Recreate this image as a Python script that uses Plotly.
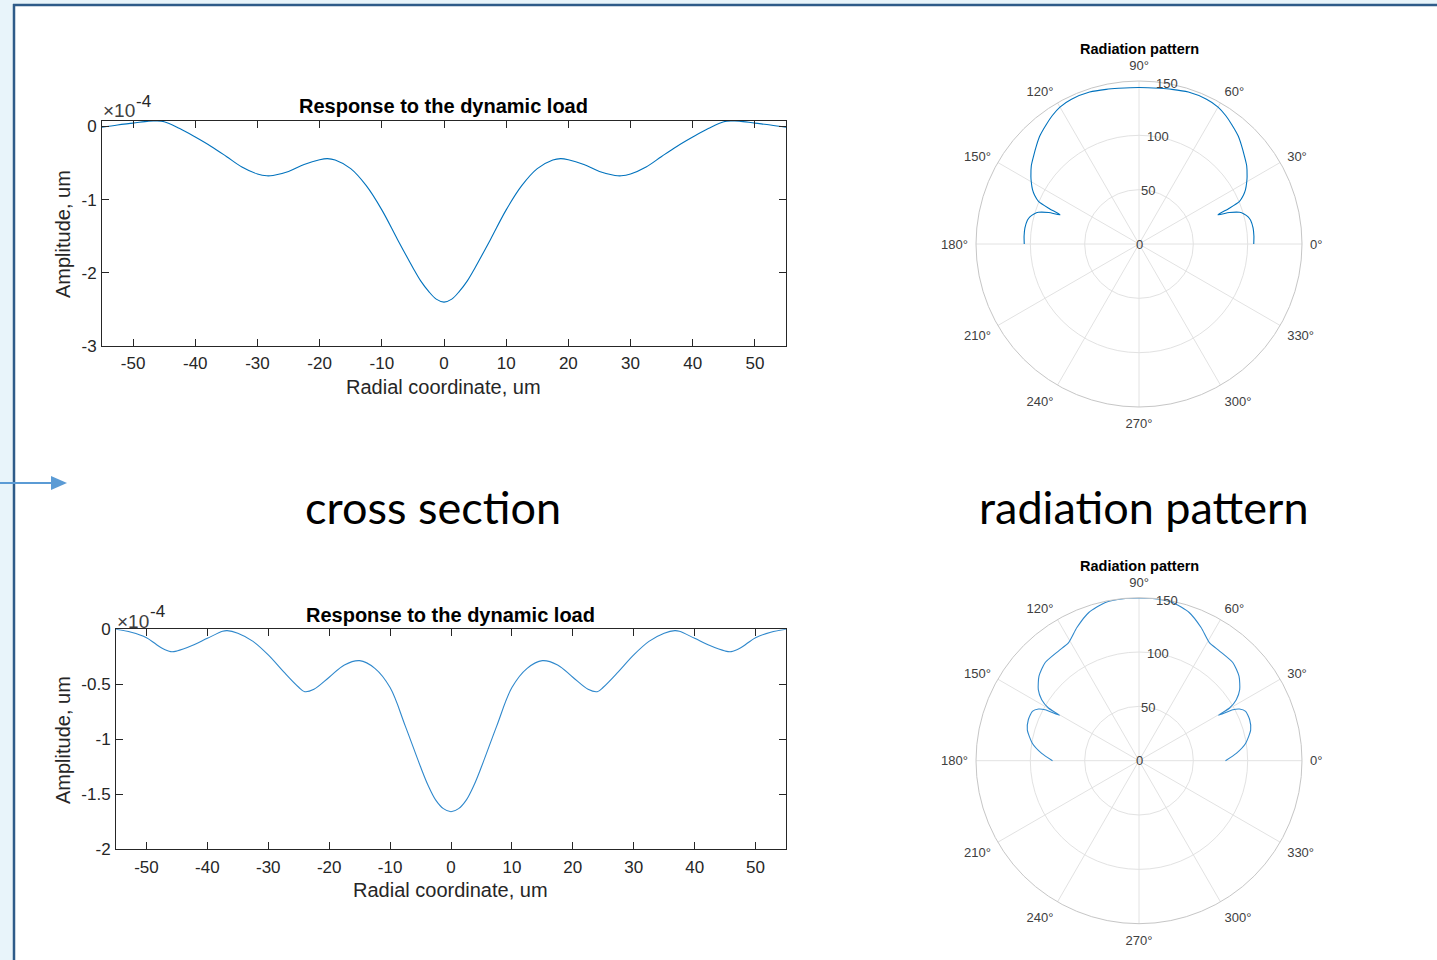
import math
import plotly.graph_objects as go

W, H = 1437, 960

# Cross-section profiles: radial coordinate (um) and amplitude (units of 1e-4 um)
x_top = [-55, -52.5, -50, -47.5, -46.5, -45, -42.5, -40, -37.5, -35, -32.5, -30, -28.5,
         -27.5, -25, -22.5, -20, -18.75, -17.5, -15, -12.5, -10, -7.5, -5, -3.75, -2.5,
         -1.25, 0, 1.25, 2.5, 3.75, 5, 7.5, 10, 12.5, 15, 17.5, 18.75, 20, 22.5, 25, 27.5,
         28.5, 30, 32.5, 35, 37.5, 40, 42.5, 45, 46.5, 47.5, 50, 52.5, 55]
amp_top = [-0.01, 0.02, 0.045, 0.072, 0.074, 0.065, -0.03, -0.145, -0.27, -0.41, -0.555,
           -0.65, -0.675, -0.67, -0.615, -0.52, -0.455, -0.44, -0.46, -0.577, -0.81,
           -1.14, -1.54, -1.93, -2.11, -2.25, -2.36, -2.40, -2.36, -2.25, -2.11, -1.93,
           -1.54, -1.14, -0.81, -0.577, -0.46, -0.44, -0.455, -0.52, -0.615, -0.67,
           -0.675, -0.65, -0.555, -0.41, -0.27, -0.145, -0.03, 0.065, 0.074, 0.072,
           0.045, 0.02, -0.01]

x_bot = [-55, -52.5, -50, -47.5, -46, -45, -42.5, -40, -37.5, -36.75, -35, -32.5, -30,
         -27.5, -25, -24, -22.5, -20, -17.5, -15, -12.5, -10, -7.5, -5, -3.75, -2.5,
         -1.25, 0, 1.25, 2.5, 3.75, 5, 7.5, 10, 12.5, 15, 17.5, 20, 22.5, 24, 25, 27.5,
         30, 32.5, 35, 36.75, 37.5, 40, 42.5, 45, 46, 47.5, 50, 52.5, 55]
amp_bot = [0.0, -0.027, -0.076, -0.17, -0.203, -0.197, -0.148, -0.082, -0.018, -0.012,
           -0.036, -0.11, -0.233, -0.385, -0.527, -0.567, -0.545, -0.436, -0.324, -0.285,
           -0.355, -0.53, -0.88, -1.25, -1.42, -1.553, -1.63, -1.658, -1.63, -1.553,
           -1.42, -1.25, -0.88, -0.53, -0.355, -0.285, -0.324, -0.436, -0.545, -0.567,
           -0.527, -0.385, -0.233, -0.11, -0.036, -0.012, -0.018, -0.082, -0.148, -0.197,
           -0.203, -0.17, -0.076, -0.027, 0.0]

# Radiation patterns: angle (deg) and magnitude
theta_top = [0, 4, 8, 12, 14, 16, 17.5, 19.2, 20.3, 21.6, 23, 25, 27, 30, 32, 36, 40, 44,
             47.5, 52, 56, 60, 65, 72, 78, 82.5, 90,
             97.5, 102, 108, 115, 120, 124, 128, 132.5, 136, 140, 144, 148, 150, 153, 155,
             157, 158.4, 159.7, 160.8, 162.5, 164, 166, 168, 172, 176, 180]
r_top = [105.6, 106, 106, 105, 103.5, 100.5, 97, 88, 77.5, 89.5, 100.5, 106, 110, 114.5,
         117.3, 122.5, 126.5, 131, 135, 139, 142.6, 145.5, 147, 147, 145.5, 144.5, 144,
         144.5, 145.5, 147, 147, 145.5, 142.6, 139, 135, 131, 126.5, 122.5, 117.3, 114.5,
         110, 106, 100.5, 89.5, 77.5, 88, 97, 100.5, 103.5, 105, 106, 106, 105.6]

theta_bot = [0, 4.3, 9.3, 15.4, 20.3, 24.8, 27.2, 28.5, 29.8, 30.2, 32.1, 35.2, 40.2, 46.2,
             53.7, 59.2, 65, 71.3, 78, 85.3, 90,
             94.7, 102, 108.7, 115, 120.8, 126.3, 133.8, 139.8, 144.8, 147.9, 149.8, 150.2,
             151.5, 152.8, 155.2, 159.7, 164.6, 170.7, 175.7, 180]
r_bot = [79.6, 89.8, 99.5, 106.6, 108.6, 108.1, 104, 98.3, 84.3, 96.4, 105.7, 113.4, 120.5,
         124.9, 125.2, 126.5, 135.2, 144, 148.9, 149.9, 149.7,
         149.9, 148.9, 144, 135.2, 126.5, 125.2, 124.9, 120.5, 113.4, 105.7, 96.4, 84.3,
         98.3, 104, 108.1, 108.6, 106.6, 99.5, 89.8, 79.6]

x_ticks = [-50, -40, -30, -20, -10, 0, 10, 20, 30, 40, 50]
y_ticks_top = [0, -1, -2, -3]
y_ticks_bot = [0, -0.5, -1, -1.5, -2]
r_ticks = [0, 50, 100, 150]
angle_ticks = [0, 30, 60, 90, 120, 150, 180, 210, 240, 270, 300, 330]
R_MAX = 150
R_LABEL_ANGLE = 80

LINE = "#0072BD"
LINE2 = "#2f88cc"
AX = "#262626"
FONT = "Liberation Sans, Arial, sans-serif"
SLIDE_FONT = "Lato, Carlito, Calibri, sans-serif"

# Polar panels: centre (px) and outer radius (px)
POLAR_R = 163
POLAR_CENTERS = [(1139, 244), (1139, 760.7)]


def px(x):
    return x / W


def py(y):
    return 1 - y / H


def lab(v):
    return ("%g" % v).replace("\u2212", "-")


fig = go.Figure()
fig.add_trace(go.Scatter(x=x_top, y=amp_top, mode="lines", xaxis="x", yaxis="y",
                         line=dict(color=LINE, width=1.1, shape="spline", smoothing=1.0),
                         showlegend=False, hoverinfo="skip"))
fig.add_trace(go.Scatter(x=x_bot, y=amp_bot, mode="lines", xaxis="x2", yaxis="y2",
                         line=dict(color=LINE2, width=1.1, shape="spline", smoothing=1.0),
                         showlegend=False, hoverinfo="skip"))
fig.add_trace(go.Scatterpolar(theta=theta_top, r=r_top, mode="lines", subplot="polar",
                              line=dict(color=LINE, width=1.1, shape="spline", smoothing=0.6),
                              showlegend=False, hoverinfo="skip"))
fig.add_trace(go.Scatterpolar(theta=theta_bot, r=r_bot, mode="lines", subplot="polar2",
                              line=dict(color=LINE2, width=1.1, shape="spline", smoothing=0.6),
                              showlegend=False, hoverinfo="skip"))


def xax(dom, anchor):
    return dict(domain=dom, anchor=anchor, range=[-55, 55], tickvals=x_ticks,
                ticktext=[lab(v) for v in x_ticks], ticks="inside", ticklen=7, tickwidth=1,
                tickcolor=AX, mirror="ticks", showline=True, linecolor=AX, linewidth=1,
                showgrid=False, zeroline=False, automargin=False, ticklabelstandoff=2,
                tickfont=dict(size=17, color=AX, family=FONT))


def yax(dom, anchor, rng, ticks):
    return dict(domain=dom, anchor=anchor, range=rng, tickvals=ticks,
                ticktext=[lab(v) for v in ticks], ticks="inside", ticklen=7, tickwidth=1,
                tickcolor=AX, mirror="ticks", showline=True, linecolor=AX, linewidth=1,
                showgrid=False, zeroline=False, automargin=False, ticklabelstandoff=1,
                tickfont=dict(size=17, color=AX, family=FONT))


def polar(center):
    cx, cy = center
    return dict(domain=dict(x=[px(cx - POLAR_R), px(cx + POLAR_R)],
                            y=[py(cy + POLAR_R), py(cy - POLAR_R)]),
                bgcolor="white",
                radialaxis=dict(range=[0, R_MAX], tickvals=r_ticks, showticklabels=False,
                                angle=R_LABEL_ANGLE, showline=False, ticks="",
                                gridcolor="#e2e2e2", gridwidth=1),
                angularaxis=dict(tickvals=angle_ticks, ticktext=["%d°" % a for a in angle_ticks],
                                 direction="counterclockwise", rotation=0, ticks="outside",
                                 ticklen=5, tickcolor="rgba(0,0,0,0)",
                                 gridcolor="#e2e2e2", gridwidth=1, showline=True,
                                 linecolor="#c6c6c6", linewidth=1,
                                 tickfont=dict(size=13, color="#404040", family=FONT)))


annotations = []


def text(x, y, s, size, bold=False, color=AX, family=FONT, angle=0, xanchor="center"):
    annotations.append(dict(x=px(x), y=py(y), xref="paper", yref="paper", text=s,
                            showarrow=False, xanchor=xanchor, yanchor="middle",
                            textangle=angle,
                            font=dict(size=size, color=color, family=family,
                                      weight="bold" if bold else "normal")))


# Line-plot labels
text(443, 106, "Response to the dynamic load", 20, bold=True, color="#000000")
text(443, 387, "Radial coordinate, um", 20)
text(63, 234, "Amplitude, um", 20, angle=-90)
text(101, 111, "×10", 19, color="#404040", xanchor="left")
text(134, 101, "-4", 17, color="#262626", xanchor="left")

text(450, 615, "Response to the dynamic load", 20, bold=True, color="#000000")
text(450, 890, "Radial coordinate, um", 20)
text(63, 740, "Amplitude, um", 20, angle=-90)
text(115, 621, "×10", 19, color="#404040", xanchor="left")
text(148, 611, "-4", 17, color="#262626", xanchor="left")

# Polar titles and radial tick labels, centred on the 80° radial line
for (cx, cy), ty in zip(POLAR_CENTERS, [49, 566]):
    text(cx, ty, "Radiation pattern", 14.5, bold=True, color="#000000")
    a = math.radians(R_LABEL_ANGLE)
    for rv in r_ticks:
        d = rv / R_MAX * POLAR_R
        text(cx + d * math.cos(a), cy - d * math.sin(a), lab(rv), 13, color="#404040")

# Slide captions
text(433, 507, "cross section", 45, color="#000000", family=SLIDE_FONT)
text(1144, 507, "radiation pattern", 45, color="#000000", family=SLIDE_FONT)

shapes = [
    dict(type="rect", xref="paper", yref="paper", x0=0, x1=px(13), y0=0, y1=1,
         fillcolor="#e8f4fa", line=dict(width=0), layer="below"),
    dict(type="rect", xref="paper", yref="paper", x0=0, x1=1, y0=py(4), y1=1,
         fillcolor="#e8f4fa", line=dict(width=0), layer="below"),
    dict(type="line", xref="paper", yref="paper", x0=px(14), x1=px(14), y0=0, y1=py(4),
         line=dict(color="#2e5b89", width=2.5)),
    dict(type="line", xref="paper", yref="paper", x0=px(13), x1=1, y0=py(5), y1=py(5),
         line=dict(color="#2e5b89", width=2.5)),
    dict(type="line", xref="paper", yref="paper", x0=0, x1=px(54), y0=py(483), y1=py(483),
         line=dict(color="#5b9bd5", width=2)),
    dict(type="path", xref="paper", yref="paper",
         path="M %f %f L %f %f L %f %f Z" % (px(51), py(476), px(67), py(483), px(51), py(490)),
         fillcolor="#5b9bd5", line=dict(width=0)),
]

fig.update_layout(
    width=W, height=H, autosize=False, margin=dict(l=0, r=0, t=0, b=0, pad=0),
    paper_bgcolor="white", plot_bgcolor="white", showlegend=False,
    xaxis=xax([px(102), px(786)], "y"),
    yaxis=yax([py(346), py(121)], "x", [-3, 0.074], y_ticks_top),
    xaxis2=xax([px(116), px(786)], "y2"),
    yaxis2=yax([py(849.3), py(629.3)], "x2", [-2, 0], y_ticks_bot),
    polar=polar(POLAR_CENTERS[0]),
    polar2=polar(POLAR_CENTERS[1]),
    annotations=annotations, shapes=shapes,
    font=dict(family=FONT, color=AX),
)

fig.write_html("out.html")
